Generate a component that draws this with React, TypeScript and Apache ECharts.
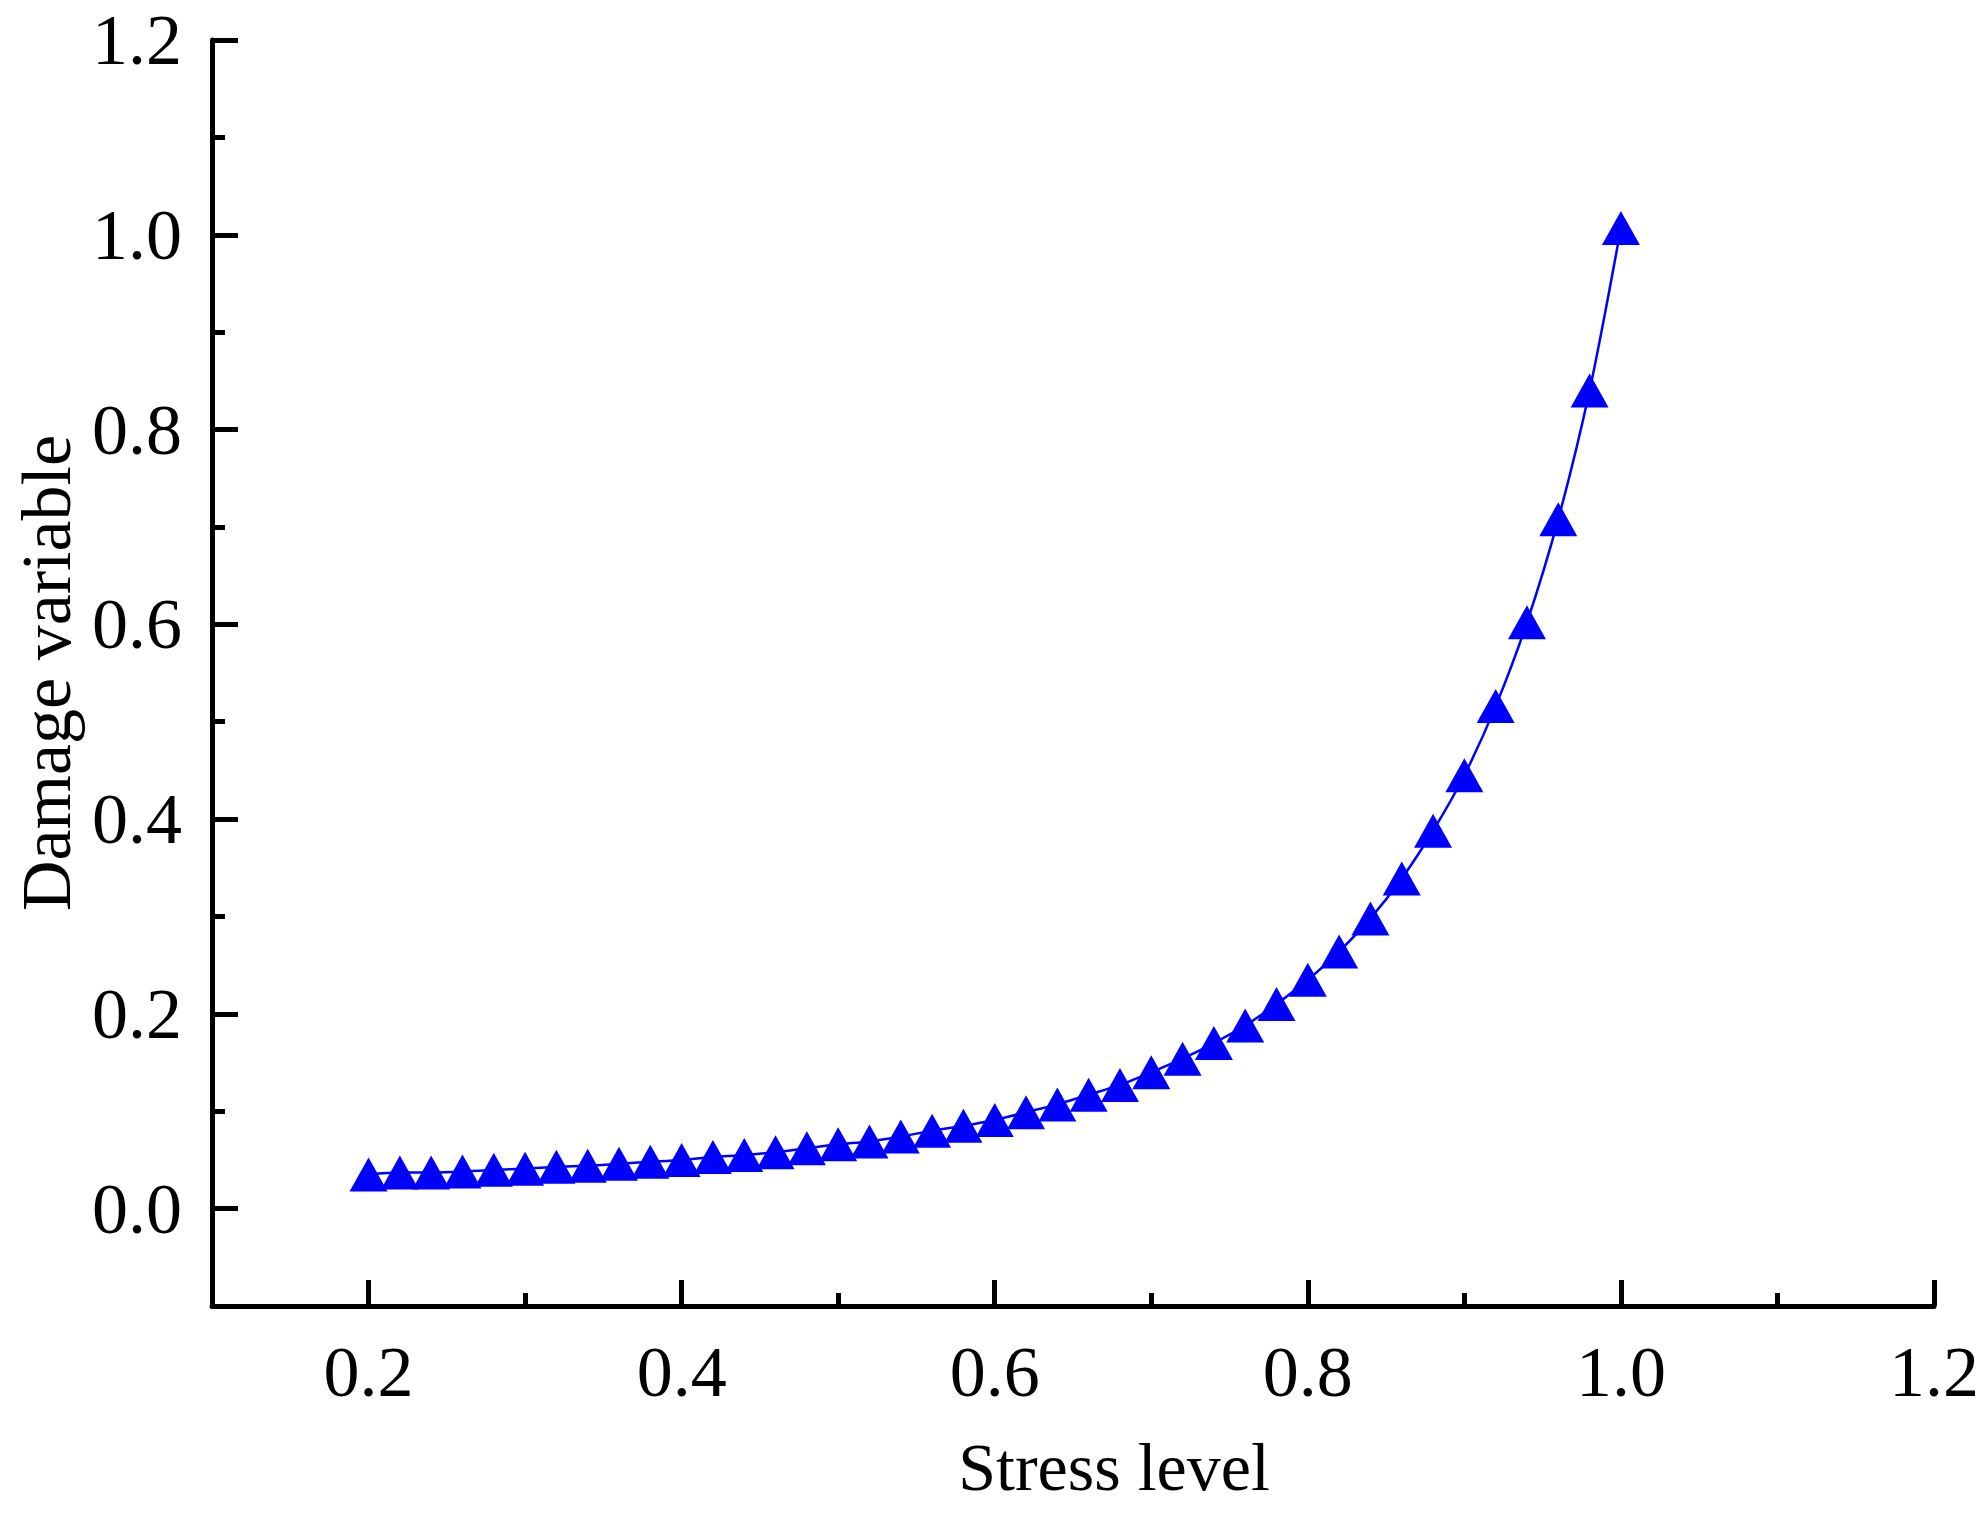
import React, { useEffect, useRef } from "react";
import * as echarts from "echarts";

const stressLevel = [
  0.2, 0.22, 0.24, 0.26, 0.28, 0.3, 0.32, 0.34, 0.36, 0.38, 0.4, 0.42, 0.44, 0.46,
  0.48, 0.5, 0.52, 0.54, 0.56, 0.58, 0.6, 0.62, 0.64, 0.66, 0.68, 0.7, 0.72, 0.74,
  0.76, 0.78, 0.8, 0.82, 0.84, 0.86, 0.88, 0.9, 0.92, 0.94, 0.96, 0.98, 1.0,
];
const damageVariable = [
  0.035, 0.037, 0.037, 0.038, 0.04, 0.041, 0.043, 0.044, 0.046, 0.048, 0.05, 0.053,
  0.055, 0.058, 0.062, 0.066, 0.069, 0.074, 0.08, 0.085, 0.091, 0.099, 0.107, 0.117,
  0.127, 0.14, 0.154, 0.17, 0.188, 0.21, 0.235, 0.264, 0.298, 0.339, 0.388, 0.445,
  0.516, 0.602, 0.708, 0.84, 1.007,
];

const xMajorTicks = [0.2, 0.4, 0.6, 0.8, 1.0, 1.2];
const xMinorTicks = [0.3, 0.5, 0.7, 0.9, 1.1];
const yMajorTicks = [0.0, 0.2, 0.4, 0.6, 0.8, 1.0, 1.2];
const yMinorTicks = [0.1, 0.3, 0.5, 0.7, 0.9, 1.1];

const xTitle = "Stress level";
const yTitle = "Damage variable";

const FONT = "'Liberation Serif', 'Times New Roman', serif";

export default function App() {
  const ref = useRef<HTMLDivElement>(null);

  useEffect(() => {
    if (!ref.current) return;
    const chart = echarts.init(ref.current, undefined, { renderer: "svg" });
    const axisColor = "#000000";
    const lineW = 5;
    const tickLabel = {
      fontFamily: FONT,
      fontSize: 72,
      lineHeight: 72,
      color: "#000000",
    };
    const fmt = (v: number) => Number(v).toFixed(1);

    const option: any = {
      animation: false,
      backgroundColor: "#ffffff",
      grid: { left: 212, right: 44, top: 40, bottom: 218, containLabel: false },
      xAxis: [
        {
          type: "value",
          min: 0.1,
          max: 1.2,
          position: "bottom",
          name: xTitle,
          nameLocation: "middle",
          nameGap: 127,
          nameTextStyle: {
            fontFamily: FONT,
            fontSize: 68,
            lineHeight: 68,
            color: "#000000",
            padding: [0, 0, 0, 82],
          },
          axisLine: { show: true, onZero: false, lineStyle: { color: axisColor, width: lineW } },
          axisTick: {
            show: true,
            inside: true,
            length: 26,
            customValues: xMajorTicks,
            lineStyle: { color: axisColor, width: lineW },
          },
          axisLabel: { ...tickLabel, margin: 30, customValues: xMajorTicks, formatter: fmt },
          splitLine: { show: false },
        },
        {
          type: "value",
          min: 0.1,
          max: 1.2,
          position: "bottom",
          axisLine: { show: false, onZero: false },
          axisTick: {
            show: true,
            inside: true,
            length: 13,
            customValues: xMinorTicks,
            lineStyle: { color: axisColor, width: lineW },
          },
          axisLabel: { show: false },
          splitLine: { show: false },
        },
      ],
      yAxis: [
        {
          type: "value",
          min: -0.1,
          max: 1.2,
          position: "left",
          name: yTitle,
          nameLocation: "middle",
          nameGap: 125,
          nameRotate: 90,
          nameTextStyle: {
            fontFamily: FONT,
            fontSize: 70,
            lineHeight: 70,
            color: "#000000",
          },
          axisLine: { show: true, onZero: false, lineStyle: { color: axisColor, width: lineW } },
          axisTick: {
            show: true,
            inside: true,
            length: 26,
            customValues: yMajorTicks,
            lineStyle: { color: axisColor, width: lineW },
          },
          axisLabel: { ...tickLabel, margin: 30, customValues: yMajorTicks, formatter: fmt },
          splitLine: { show: false },
        },
        {
          type: "value",
          min: -0.1,
          max: 1.2,
          position: "left",
          axisLine: { show: false, onZero: false },
          axisTick: {
            show: true,
            inside: true,
            length: 13,
            customValues: yMinorTicks,
            lineStyle: { color: axisColor, width: lineW },
          },
          axisLabel: { show: false },
          splitLine: { show: false },
        },
      ],
      series: [
        {
          type: "line",
          xAxisIndex: 0,
          yAxisIndex: 0,
          data: stressLevel.map((x, i) => [x, damageVariable[i]]),
          smooth: 0.3,
          symbol: "triangle",
          symbolSize: [38, 34],
          showAllSymbol: true,
          lineStyle: { color: "#0000ff", width: 2.5 },
          itemStyle: { color: "#0000ff" },
          z: 3,
        },
      ],
    };
    chart.setOption(option);
    return () => chart.dispose();
  }, []);

  return (
    <div
      ref={ref}
      style={{
        position: "fixed",
        left: 0,
        top: 0,
        width: 1982,
        height: 1524,
        background: "#ffffff",
      }}
    />
  );
}
